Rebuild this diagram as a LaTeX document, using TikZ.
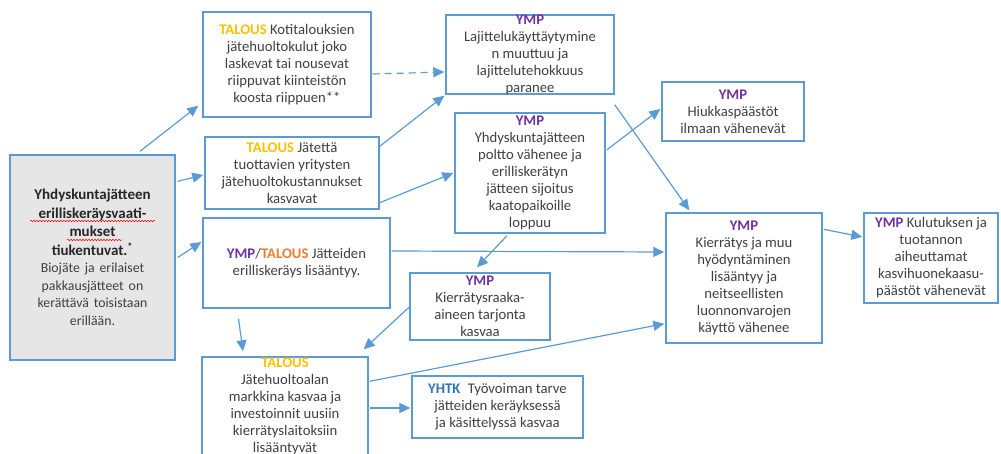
\documentclass[tikz,border=0pt]{standalone}
\usepackage{fontspec}
\setmainfont{Carlito}
\usetikzlibrary{arrows.meta,calc,decorations.pathmorphing}
\definecolor{bl}{HTML}{5B9BD5}
\definecolor{txt}{HTML}{404040}
\definecolor{ymp}{HTML}{7030A0}
\definecolor{tal}{HTML}{FFC000}
\definecolor{talo}{HTML}{ED7D31}
\definecolor{yhtk}{HTML}{2E75B6}
\definecolor{lgray}{HTML}{E6E6E6}
\newcommand{\Ymp}{\textbf{\textcolor{ymp}{YMP}}}
\newcommand{\Tal}{\textbf{\textcolor{tal}{TALOUS}}}
\begin{document}
\begin{tikzpicture}[x=1pt,y=-1pt,
  box/.style={draw=bl,line width=1.4pt,inner sep=0pt,align=center,text=txt,font=\fontsize{14.7}{17}\selectfont},
  lbl/.style={inner sep=0pt,align=center,text=txt,font=\fontsize{14.7}{17}\selectfont},
  arr/.style={draw=bl,line width=1.2pt,-{Triangle[length=11pt,width=10pt]}},
  spell/.style={draw=red,line width=0.5pt,decorate,decoration={snake,amplitude=0.8pt,segment length=3pt}}]
\useasboundingbox (0,0) rectangle (1001,454);

% left box
\node[box,fill=lgray,minimum width=165pt,minimum height=205pt,text width=160pt] (L) at (92.5,257.5)
 {\centering{\fontsize{15}{18.5}\selectfont\bfseries\color{black!85}Yhdyskuntajätteen\\erilliskeräysvaati-\\mukset\\tiukentuvat.\textsuperscript{*}\par}
  {\fontsize{13.8}{17.5}\selectfont Biojäte ja erilaiset\\pakkausjätteet on\\kerättävä toisistaan\\erillään.\par}};
\draw[spell] (30,221) -- (155,221);
\draw[spell] (67,240) -- (122,240);

\node[box,minimum width=168pt,minimum height=105pt] (A) at (287,64.5)
 {\Tal{} Kotitalouksien\\jätehuoltokulut joko\\laskevat tai nousevat\\riippuvat kiinteistön\\koosta riippuen**};
\node[box,minimum width=174pt,minimum height=72pt] (B) at (292,173)
 {\Tal{} Jätettä\\tuottavien yritysten\\jätehuoltokustannukset\\kasvavat};
\node[box,minimum width=187pt,minimum height=90pt] (C) at (296.5,263)
 {\Ymp/\textbf{\textcolor{talo}{TALOUS}} Jätteiden\\erilliskeräys lisääntyy.};
\node[box,minimum width=168pt,minimum height=79pt] (D) at (530,54.5) {};
\node[lbl] (Dt) at (D.center) {\Ymp\\Lajittelukäyttäytymine\\n muuttuu ja\\lajittelutehokkuus\\paranee};
\node[box,minimum width=150pt,minimum height=120pt] (E) at (530,173)
 {\Ymp\\Yhdyskuntajätteen\\poltto vähenee ja\\erilliskerätyn\\jätteen sijoitus\\kaatopaikoille\\loppuu};
\node[box,minimum width=142pt,minimum height=59pt] (F) at (733,111.5)
 {\Ymp\\Hiukkaspäästöt\\ilmaan vähenevät};
\node[box,minimum width=156pt,minimum height=130pt] (G) at (744,278)
 {\Ymp\\Kierrätys ja muu\\hyödyntäminen\\lisääntyy ja\\neitseellisten\\luonnonvarojen\\käyttö vähenee};
\node[box,minimum width=134pt,minimum height=90pt] (H) at (931,258)
 {\Ymp{} Kulutuksen ja\\tuotannon\\aiheuttamat\\kasvihuonekaasu-\\päästöt vähenevät};
\node[box,minimum width=140pt,minimum height=67pt] (I) at (480,306.5)
 {\Ymp\\Kierrätysraaka-\\aineen tarjonta\\kasvaa};
\node[box,minimum width=171pt,minimum height=62pt] (J) at (497.5,407)
 {\textbf{\textcolor{yhtk}{YHTK}}\hspace{0.5em}Työvoiman tarve\\jätteiden keräyksessä\\ja käsittelyssä kasvaa};
\node[box,minimum width=166pt,minimum height=100pt] (K) at (285,407) {};
\node[lbl] (Kt) at (285,406) {\Tal\\Jätehuoltoalan\\markkina kasvaa ja\\investoinnit uusiin\\kierrätyslaitoksiin\\lisääntyvät};

% connectors
\draw[arr] ($(L.north)+(47.5,-3)$) -- ($(A.south west)+(-4,-12)$);
\draw[arr] ($(L.north east)+(2,27)$) -- ($(B.west)+(-1,2)$);
\draw[arr] ($(L.east)+(2,0)$) -- ($(C.west)+(-1,-21)$);
\draw[arr,dashed,dash pattern=on 7pt off 5pt] ($(A.east)+(1,9.5)$) -- ($(D.west)+(-1,17.5)$);
\draw[arr] ($(B.north east)+(0,10)$) -- ($(D.south west)+(-1,1)$);
\draw[arr] ($(B.south east)+(0,-7)$) -- ($(E.west)+(-1,0)$);
\draw[arr] ($(D.south east)+(0,10)$) -- ($(G.north west)+(24,-2)$);
\draw[arr] ($(E.east)+(1,-23)$) -- ($(F.west)+(-1,-2.5)$);
\draw[arr] ($(C.east)+(1,-12)$) -- ($(G.west)+(-1,-26)$);
\draw[arr] ($(E.south)+(-23,2)$) -- ($(I.north)+(-3,-5)$);
\draw[arr] ($(I.west)+(0,0.5)$) -- ($(K.north east)+(-5,-7)$);
\draw[arr] ($(K.north east)+(1,25)$) -- ($(G.south west)+(-1,-20)$);
\draw[arr] ($(K.east)+(1,1)$) -- ($(J.west)+(-1,1)$);
\draw[arr] ($(C.south)+(-58,10)$) -- ($(K.north)+(-42,-5)$);
\draw[arr] ($(G.north east)+(1,17)$) -- ($(H.west)+(-1,-21)$);
\end{tikzpicture}
\end{document}
